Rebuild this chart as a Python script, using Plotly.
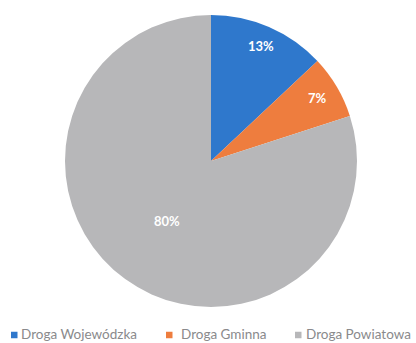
import math
import plotly.graph_objects as go

categories = ["Droga Wojewódzka", "Droga Gminna", "Droga Powiatowa"]
shares = [13, 7, 80]
colors = ["#2f78cc", "#ee7d3e", "#b7b7b9"]

W, H = 416, 343
cx, cy, r = 211, 161, 146  # pie centre and radius in pixels

fig = go.Figure(
    go.Pie(
        labels=categories,
        values=shares,
        sort=False,
        direction="clockwise",
        rotation=0,
        marker=dict(colors=colors, line=dict(width=0)),
        textinfo="none",
        hoverinfo="label+percent",
        domain=dict(x=[(cx - r) / W, (cx + r) / W],
                    y=[1 - (cy + r) / H, 1 - (cy - r) / H]),
        showlegend=False,
    )
)

# percentage labels placed along each slice's mid-angle
label_radius = [0.86, 0.85, 0.51]
total = sum(shares)
start = 0.0
for val, frac in zip(shares, label_radius):
    mid = (start + val / 2) / total * 2 * math.pi
    start += val
    px = cx + frac * r * math.sin(mid)
    py = cy - frac * r * math.cos(mid)
    fig.add_annotation(
        x=px / W, y=1 - py / H, xref="paper", yref="paper",
        xanchor="center", yanchor="middle",
        text=f"<b>{round(val / total * 100)}%</b>", showarrow=False,
        font=dict(family="Lato, Open Sans, sans-serif", size=13, color="#ffffff"),
    )

# legend row along the bottom: coloured square followed by its name
square_x = [11, 166, 295]   # left edge of each square, px
text_x = [20, 180, 305]     # left edge of each name, px
square_y = 335              # vertical centre of the squares, px
sq = 6.5
for name, col, sx, tx in zip(categories, colors, square_x, text_x):
    fig.add_shape(
        type="rect", xref="paper", yref="paper",
        x0=sx / W, x1=(sx + sq) / W,
        y0=1 - (square_y + sq / 2) / H, y1=1 - (square_y - sq / 2) / H,
        fillcolor=col, line=dict(width=0),
    )
    fig.add_annotation(
        x=tx / W, y=0, xref="paper", yref="paper",
        xanchor="left", yanchor="bottom", showarrow=False, text=name,
        borderpad=0,
        font=dict(family="Lato, Open Sans, sans-serif", size=13.5, color="#8a8a8c"),
    )

fig.update_layout(
    width=W, height=H,
    margin=dict(l=0, r=0, t=0, b=0),
    paper_bgcolor="#ffffff",
    showlegend=False,
)

fig.write_html("out.html")
